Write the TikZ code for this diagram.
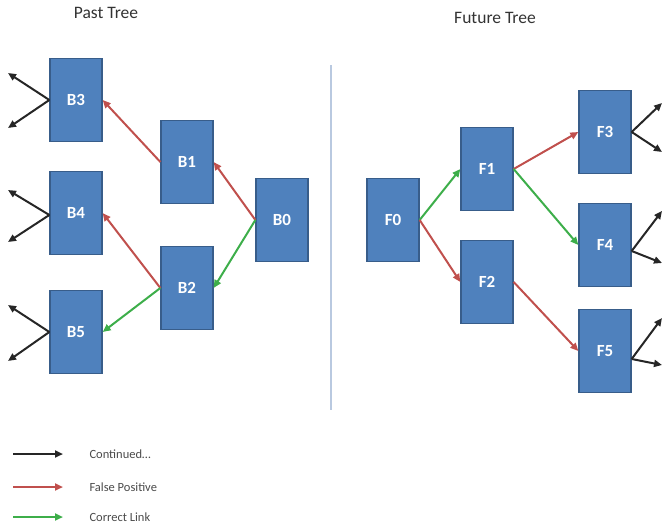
\documentclass[tikz,border=0pt]{standalone}
\usepackage{fontspec}
\setmainfont{Carlito}
\usetikzlibrary{arrows.meta}
\definecolor{boxfill}{HTML}{4F81BD}
\definecolor{boxedge}{HTML}{385D8A}
\definecolor{fpred}{HTML}{C0504D}
\definecolor{okgreen}{HTML}{3DAE4A}
\definecolor{divider}{HTML}{B9C9E0}
\definecolor{titlegray}{HTML}{333333}
\definecolor{legendgray}{HTML}{4A4A4A}
\tikzset{
  treebox/.style={rectangle, fill=boxfill, draw=boxedge, line width=1.3pt,
    minimum width=52pt, minimum height=83pt, inner sep=0pt,
    text=white, font=\fontsize{17}{17}\selectfont\bfseries},
  link/.style={line width=2pt, -{Triangle[length=8pt,width=7pt]}},
  contarrow/.style={link, draw=black!85},
  falsepos/.style={link, draw=fpred},
  correct/.style={link, draw=okgreen},
  titletext/.style={text=titlegray, font=\fontsize{17.5}{17.5}\selectfont},
  legendtext/.style={text=legendgray, font=\fontsize{12.5}{12.5}\selectfont, anchor=west}
}
\begin{document}
\begin{tikzpicture}[x=1pt,y=-1pt]
\useasboundingbox (0,0) rectangle (663,527);
% titles
\node[titletext] (pt) at (106,13) {Past Tree};
\node[titletext] (ft) at (495,18) {Future Tree};
% divider
\coordinate (dtop) at (331,65);
\coordinate (dbot) at (331,410);
\draw[divider, line width=1.5pt] (dtop) -- (dbot);
% past tree boxes
\node[treebox] (B3) at (76,100) {B3};
\node[treebox] (B4) at (76,213) {B4};
\node[treebox] (B5) at (76,332) {B5};
\node[treebox] (B1) at (187,162) {B1};
\node[treebox] (B2) at (187,288) {B2};
\node[treebox] (B0) at (282,220) {B0};
% future tree boxes
\node[treebox] (F0) at (393,220) {F0};
\node[treebox] (F1) at (487,169) {F1};
\node[treebox] (F2) at (487,282) {F2};
\node[treebox] (F3) at (605,132) {F3};
\node[treebox] (F4) at (605,245) {F4};
\node[treebox] (F5) at (605,351) {F5};
% past links
\draw[falsepos] (B0.west) -- (B1.east);
\draw[correct] (B0.west) -- (B2.east);
\draw[falsepos] (B1.west) -- (B3.east);
\draw[falsepos] (B2.west) -- (B4.east);
\draw[correct] (B2.west) -- (B5.east);
% future links
\draw[correct] (F0.east) -- (F1.west);
\draw[falsepos] (F0.east) -- (F2.west);
\draw[falsepos] (F1.east) -- (F3.west);
\draw[correct] (F1.east) -- (F4.west);
\draw[falsepos] (F2.east) -- (F5.west);
% continued arrows (past)
\coordinate (b3a) at (8,73);  \coordinate (b3b) at (8,128);
\coordinate (b4a) at (8,190); \coordinate (b4b) at (8,242);
\coordinate (b5a) at (8,305); \coordinate (b5b) at (8,361);
\draw[contarrow] (B3.west) -- (b3a);
\draw[contarrow] (B3.west) -- (b3b);
\draw[contarrow] ([yshift=-2pt]B4.west) -- (b4a);
\draw[contarrow] ([yshift=-2pt]B4.west) -- (b4b);
\draw[contarrow] (B5.west) -- (b5a);
\draw[contarrow] (B5.west) -- (b5b);
% continued arrows (future)
\coordinate (f3a) at (662,103); \coordinate (f3b) at (662,152);
\coordinate (f4a) at (662,211); \coordinate (f4b) at (662,263);
\coordinate (f5a) at (662,318); \coordinate (f5b) at (662,365);
\draw[contarrow] (F3.east) -- (f3a);
\draw[contarrow] (F3.east) -- (f3b);
\draw[contarrow] ([yshift=-6pt]F4.east) -- (f4a);
\draw[contarrow] ([yshift=-6pt]F4.east) -- (f4b);
\draw[contarrow] ([yshift=-8pt]F5.east) -- (f5a);
\draw[contarrow] ([yshift=-8pt]F5.east) -- (f5b);
% legend
\coordinate (l1a) at (13,454); \coordinate (l1b) at (63,454);
\coordinate (l2a) at (13,487); \coordinate (l2b) at (63,487);
\coordinate (l3a) at (13,517); \coordinate (l3b) at (63,517);
\draw[contarrow] (l1a) -- (l1b);
\draw[falsepos] (l2a) -- (l2b);
\draw[correct] (l3a) -- (l3b);
\node[legendtext] (lt1) at (86,454) {Continued…};
\node[legendtext] (lt2) at (86,487) {False Positive};
\node[legendtext] (lt3) at (86,517) {Correct Link};
\end{tikzpicture}
\end{document}
